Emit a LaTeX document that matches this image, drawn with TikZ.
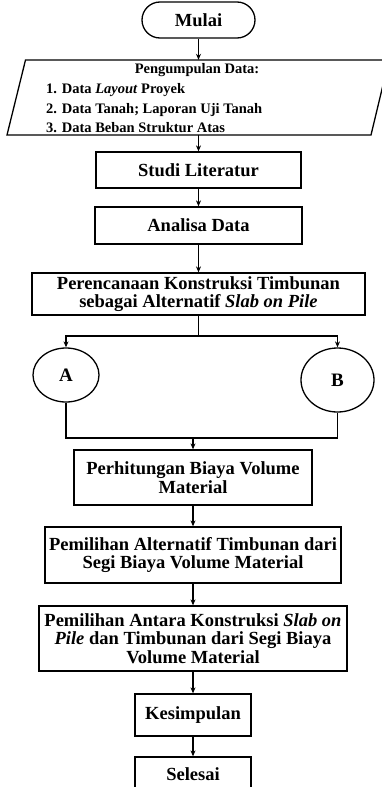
\documentclass[tikz,border=0pt]{standalone}
\usepackage{fontspec}
\setmainfont{Liberation Serif}
\usetikzlibrary{shapes.geometric,arrows.meta}
\begin{document}
\begin{tikzpicture}[x=1pt,y=-1pt,
  box/.style={draw,line width=1.3pt,inner sep=0pt,align=center,
    font=\fontsize{18.5}{18.5}\selectfont\bfseries},
  term/.style={box,rounded corners=18pt},
  oval/.style={draw,line width=1.3pt,ellipse,inner sep=0pt,
    font=\fontsize{19}{19}\selectfont\bfseries},
  small/.style={inner sep=0pt,font=\fontsize{14.5}{19.5}\selectfont\bfseries},
  line/.style={line width=1.3pt},
  arr/.style={line width=1.3pt,-{Stealth[length=6pt,width=5pt]}}]
\useasboundingbox (0,0) rectangle (382,787);
\clip (0,0) rectangle (382,787);
% nodes
\node[term,minimum width=113,minimum height=36] (mulai) at (198.5,20) {Mulai};
\node[inner sep=0pt,minimum width=364,minimum height=75] (data) at (198.5,97.5) {};
\draw[line] (25.5,60) -- (389,60) -- (371,135) -- (7,135) -- cycle;
\node[small] (datatitle) at (197,70) {Pengumpulan Data:};
\node[small,anchor=west,align=left] (datalist) at (46,108.5)
  {1. Data \textit{Layout} Proyek\\2. Data Tanah; Laporan Uji Tanah\\3. Data Beban Struktur Atas};
\node[box,minimum width=205,minimum height=36] (studi) at (198.5,170) {Studi Literatur};
\node[box,minimum width=207,minimum height=37] (analisa) at (198.5,225.5) {Analisa Data};
\node[box,minimum width=333,minimum height=42] (renc) at (198.5,294)
  {Perencanaan Konstruksi Timbunan\\sebagai Alternatif \textit{Slab on Pile}};
\node[oval,minimum width=66,minimum height=54] (A) at (66,375) {A};
\node[oval,minimum width=73,minimum height=64] (B) at (337.5,380) {B};
\node[box,minimum width=238,minimum height=55] (hitung) at (193,477.5)
  {Perhitungan Biaya Volume\\Material};
\node[box,minimum width=296,minimum height=56] (pilalt) at (193,555)
  {Pemilihan Alternatif Timbunan dari\\Segi Biaya Volume Material};
\node[box,minimum width=308,minimum height=65] (pilantara) at (193,638.5)
  {Pemilihan Antara Konstruksi \textit{Slab on}\\\textit{Pile} dan Timbunan dari Segi Biaya\\Volume Material};
\node[box,minimum width=116,minimum height=42] (simpul) at (193,715) {Kesimpulan};
\node[box,minimum width=116,minimum height=34] (selesai) at (193,774) {Selesai};
% connectors
\coordinate (split) at (198.5,336);
\coordinate (merge) at (193,438);
\draw[arr] (mulai.south) -- (data.north);
\draw[arr] (data.south) -- (studi.north);
\draw[arr] (studi.south) -- (analisa.north);
\draw[arr] (analisa.south) -- (renc.north);
\draw[line] (renc.south) -- (split);
\draw[arr] (split) -| (A.north);
\draw[arr] (split) -| (B.north);
\draw[line] (A.south) |- (merge);
\draw[line] (B.south) |- (merge);
\draw[arr] (merge) -- (hitung.north);
\draw[arr] (hitung.south) -- (pilalt.north);
\draw[arr] (pilalt.south) -- (pilantara.north);
\draw[arr] (pilantara.south) -- (simpul.north);
\draw[arr] (simpul.south) -- (selesai.north);
\end{tikzpicture}
\end{document}
